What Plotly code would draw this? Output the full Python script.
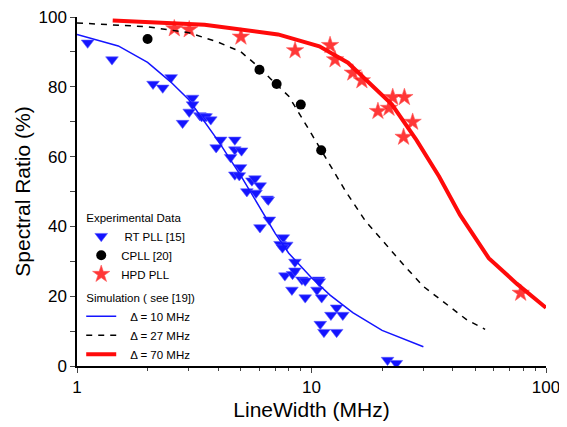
import plotly.graph_objects as go

# experimental data
rt_pll_x = [1.11, 1.41, 2.11, 2.32, 2.52, 3.11, 3.11, 3.01, 2.82, 3.34, 3.49,
            3.40, 3.55, 3.72, 4.10, 4.71, 3.92, 4.71, 5.03, 4.52, 4.98, 4.71, 4.92,
            5.57, 5.74, 6.04, 5.30, 5.80, 6.47, 6.54, 6.61, 6.03, 7.58, 7.34, 7.84,
            7.52, 8.5, 7.7, 8.3, 8.5, 9.1, 9.4, 10.7, 8.25, 9.4, 10.8, 10.55, 11.05,
            12.8, 12.1, 13.6, 10.9, 11.3, 12.8, 21.1, 23.0]
rt_pll_y = [92.6, 87.8, 80.8, 79.7, 82.7, 76.8, 74.9, 72.8, 69.6, 71.8, 71.5,
            71.5, 71.5, 70.6, 64.8, 64.8, 62.6, 62.0, 61.7, 59.8, 56.9, 54.8, 54.6,
            53.1, 53.7, 51.7, 50.0, 49.6, 47.9, 47.6, 41.9, 39.7, 36.8, 34.9, 34.7,
            33.9, 29.8, 25.9, 26.3, 27.3, 24.7, 24.4, 24.7, 21.8, 19.6, 24.2, 21.8, 19.6,
            16.7, 14.6, 14.6, 12.0, 9.7, 9.7, 1.7, 0.8]

cpll_x = [2.0, 6.0, 7.1, 9.0, 11.0]
cpll_y = [93.7, 84.9, 80.8, 74.9, 61.8]

hpd_x = [2.60, 3.01, 5.0, 8.51, 12.0, 12.6, 15.0, 16.4, 22.2, 24.9, 19.2, 21.4, 27.0, 24.7, 78.0]
hpd_y = [96.7, 96.4, 94.3, 90.4, 91.9, 87.8, 84.0, 81.8, 77.0, 77.0, 73.0, 73.9, 69.9, 65.6, 20.9]

# simulation curves
sim10_x = [1, 1.5, 2, 2.5, 3, 4, 5, 6, 7, 8, 10, 12, 15, 20, 25, 30]
sim10_y = [95.0, 91.7, 87.0, 81.5, 76.3, 64.5, 54.5, 45.5, 38.0, 32.3, 25.3, 20.3, 15.3, 10.2, 7.5, 5.5]

sim27_x = [1, 2, 3, 4, 5, 6, 7, 8, 10, 12, 14, 17, 20, 25, 30, 40, 46, 55]
sim27_y = [98.3, 97.2, 95.5, 92.8, 90.0, 85.5, 81.0, 77.3, 66.5, 57.5, 50.0, 41.5, 36.0, 28.6, 22.8, 16.2, 13.2, 10.5]

sim70_x = [1.42, 3.5, 7.2, 10.8, 14.3, 22, 28, 35, 43, 57, 75, 100]
sim70_y = [99.0, 97.8, 95.0, 91.6, 86.9, 75.0, 64.8, 54.3, 43.3, 30.9, 23.6, 16.7]

x_minor = [2, 3, 4, 5, 6, 7, 8, 9, 20, 30, 40, 50, 60, 70, 80, 90]

FONT = "Liberation Sans, Arial, sans-serif"

fig = go.Figure()

fig.add_trace(go.Scatter(
    x=rt_pll_x, y=rt_pll_y, mode="markers", name=" RT PLL [15]",
    marker=dict(symbol="triangle-down", size=11, color="rgb(20,20,255)",
                line=dict(width=0.6, color="rgb(90,90,255)")),
    legendgroup="exp", legendgrouptitle_text="Experimental Data"))
fig.add_trace(go.Scatter(
    x=cpll_x, y=cpll_y, mode="markers", name="CPLL [20]",
    marker=dict(symbol="circle", size=10, color="black"),
    legendgroup="exp"))
fig.add_trace(go.Scatter(
    x=hpd_x, y=hpd_y, mode="markers", name="HPD PLL",
    marker=dict(symbol="star", size=13, color="rgba(255,20,20,0.85)",
                line=dict(width=0.6, color="rgb(255,90,90)")),
    legendgroup="exp"))

fig.add_trace(go.Scatter(
    x=sim10_x, y=sim10_y, mode="lines", name="   Δ = 10 MHz",
    line=dict(color="rgb(20,20,255)", width=1.5),
    legendgroup="sim", legendgrouptitle_text="Simulation ( see [19])"))
fig.add_trace(go.Scatter(
    x=sim27_x, y=sim27_y, mode="lines", name="   Δ = 27 MHz",
    line=dict(color="black", width=1.5, dash="6px,6px"),
    legendgroup="sim"))
fig.add_trace(go.Scatter(
    x=sim70_x, y=sim70_y, mode="lines", name="   Δ = 70 MHz",
    line=dict(color="rgb(255,10,10)", width=4),
    legendgroup="sim"))

# the page body adds an 8px margin, so the figure is drawn a bit smaller
fig.update_layout(
    width=559, height=419,
    margin=dict(l=69, r=21, t=9, b=61, autoexpand=False),
    paper_bgcolor="white", plot_bgcolor="white",
    font=dict(family=FONT, color="black"),
    legend=dict(x=0.009, y=0.468, xanchor="left", yanchor="top",
                bgcolor="rgba(0,0,0,0)", font=dict(size=11.5),
                grouptitlefont=dict(size=11.5), tracegroupgap=4,
                itemwidth=30),
    xaxis=dict(type="log", range=[0, 2], automargin=False,
               tickvals=[1, 10, 100], ticktext=["1", "10", "100"],
               ticks="outside", ticklen=5, showline=True, linecolor="black",
               linewidth=1.5, showgrid=False, zeroline=False,
               tickfont=dict(size=17), ticklabeloverflow="allow",
               minor=dict(ticks="outside", ticklen=3, showgrid=False, tickvals=x_minor),
               title=dict(text="LineWidth (MHz)", font=dict(size=21), standoff=6)),
    yaxis=dict(range=[0, 100], dtick=20, ticks="outside", ticklen=5,
               automargin=False, showline=True, linecolor="black", linewidth=1.5,
               showgrid=False, zeroline=False, tickfont=dict(size=17),
               ticklabeloverflow="allow",
               minor=dict(ticks="outside", ticklen=5, dtick=10, showgrid=False),
               title=dict(text="Spectral Ratio (%)", font=dict(size=21), standoff=2)),
    xaxis2=dict(type="log", range=[0, 2], overlaying="x", side="top",
                anchor="y", automargin=False, tickvals=[1, 10, 100],
                ticks="inside", ticklen=5, showticklabels=False, showline=True,
                linecolor="black", linewidth=1.5, showgrid=False, zeroline=False,
                minor=dict(ticks="inside", ticklen=3, showgrid=False, tickvals=x_minor)),
    yaxis2=dict(range=[0, 100], overlaying="y", side="right", anchor="x",
                automargin=False, dtick=20, ticks="inside", ticklen=5,
                showticklabels=False, showline=True, linecolor="black",
                linewidth=1.5, showgrid=False, zeroline=False,
                minor=dict(ticks="inside", ticklen=5, dtick=10, showgrid=False)),
)

fig.write_html("out.html")
